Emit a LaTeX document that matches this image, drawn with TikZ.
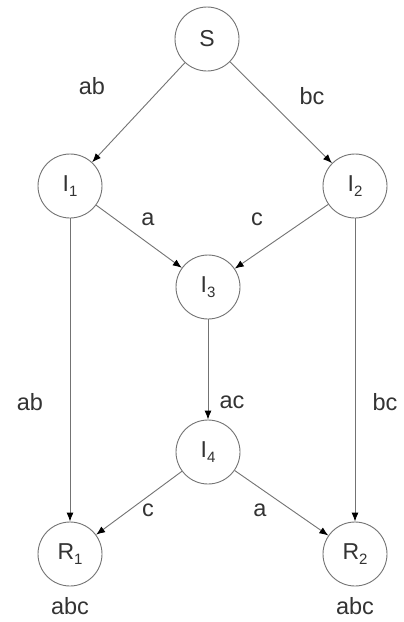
\documentclass[tikz,border=0pt]{standalone}
\usepackage{fontspec}
\setmainfont{Liberation Sans}
\usetikzlibrary{arrows.meta}
\newcommand{\sbs}[1]{\raisebox{-0.4ex}{\fontsize{15}{15}\selectfont #1}}
\begin{document}
\begin{tikzpicture}[x=1pt,y=-1pt,
  st/.style={circle,draw=black!55,line width=0.9pt,minimum size=64pt,inner sep=0pt,font=\fontsize{23}{27}\selectfont,text=black!80},
  ed/.style={draw=black!55,line width=0.9pt,-{Latex[length=9pt,width=7pt,black]}},
  lb/.style={font=\fontsize{23.5}{27}\selectfont,text=black!80,inner sep=0pt}]
\useasboundingbox[fill=white] (0,0) rectangle (404,622);
\node[st] (S)  at (207,39)  {S};
\node[st] (I1) at (70,186)  {I\sbs{1}};
\node[st] (I2) at (355,186) {I\sbs{2}};
\node[st] (I3) at (208,287) {I\sbs{3}};
\node[st] (I4) at (208,452) {I\sbs{4}};
\node[st] (R1) at (70,554)  {R\sbs{1}};
\node[st] (R2) at (355,554) {R\sbs{2}};
\draw[ed] (S) -- (I1);
\draw[ed] (S) -- (I2);
\draw[ed] (I1) -- (I3);
\draw[ed] (I2) -- (I3);
\draw[ed] (I3) -- (I4);
\draw[ed] (I1) -- (R1);
\draw[ed] (I2) -- (R2);
\draw[ed] (I4) -- (R1);
\draw[ed] (I4) -- (R2);
\node[lb] (l1) at (92,86) {ab};
\node[lb] (l2) at (312,96) {bc};
\node[lb] (l3) at (148,219) {a};
\node[lb] (l4) at (257,219) {c};
\node[lb] (l5) at (30,402) {ab};
\node[lb] (l6) at (232,402) {ac};
\node[lb] (l7) at (385,402) {bc};
\node[lb] (l8) at (148,510) {c};
\node[lb] (l9) at (260,510) {a};
\node[lb] (l10) at (70,606) {abc};
\node[lb] (l11) at (355,606) {abc};
\end{tikzpicture}
\end{document}
